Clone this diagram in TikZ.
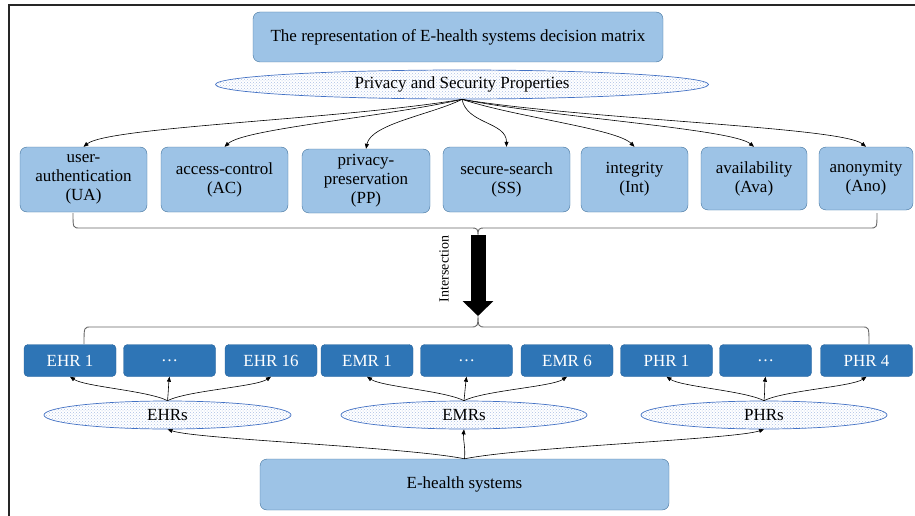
\documentclass[tikz,border=0pt]{standalone}
\usepackage{fontspec}
\setmainfont{Liberation Serif}
\usetikzlibrary{shapes.geometric,arrows.meta,patterns}

\definecolor{hellblau}{HTML}{9DC3E6}
\definecolor{randblau}{HTML}{41719C}
\definecolor{dunkelblau}{HTML}{2E75B6}
\definecolor{ovalrand}{HTML}{4472C4}

\tikzset{
	kasten/.style={draw=randblau, fill=hellblau, rounded corners=7pt, align=center, inner sep=0pt, font=\fontsize{17}{19}\selectfont},
	datensatz/.style={draw=dunkelblau!85!black, fill=dunkelblau, text=white, rounded corners=4pt, minimum width=92pt, minimum height=32pt, inner sep=0pt, font=\fontsize{17}{19}\selectfont},
	oval/.style={ellipse, draw=ovalrand, line width=0.7pt, pattern=crosshatch dots, pattern color=ovalrand!45, inner sep=0pt, font=\fontsize{17}{19}\selectfont},
	pfeil/.style={-{Triangle[length=5pt,width=4pt]}, line width=0.6pt},
	klammer/.style={draw=black!60, line width=0.9pt},
	dickpfeil/.style={line width=15pt, -{Triangle[width=30pt,length=15pt]}}
}

\begin{document}
\begin{tikzpicture}[x=1pt, y=-1pt]
		\useasboundingbox (0,0) rectangle (915,516);
		
		% Rahmen
		\draw[line width=2pt, black!85] (9,520) -- (9,5) -- (920,5);
		
		% Titel
		\node[kasten, minimum width=410pt, minimum height=50pt] (titel) at (458,37) {The representation of E-health systems decision matrix};
		\node[oval, minimum width=493pt, minimum height=29pt] (eig) at (462,84.5) {Privacy and Security Properties};
		
		% Eigenschaften
		\node[kasten, minimum width=127pt, minimum height=65pt] (ua) at (83.5,179.5) {user-\\authentication\\(UA)};
		\node[kasten, minimum width=127pt, minimum height=65pt] (ac) at (224.5,179.5) {access-control\\(AC)};
		\node[kasten, minimum width=128pt, minimum height=64pt] (pp) at (366,181) {privacy-\\preservation\\(PP)};
		\node[kasten, minimum width=127pt, minimum height=65pt] (ss) at (506.5,179.5) {secure-search\\(SS)};
		\node[kasten, minimum width=107pt, minimum height=65pt] (int) at (634.5,179.5) {integrity\\(Int)};
		\node[kasten, minimum width=106pt, minimum height=63pt] (ava) at (754,178.5) {availability\\(Ava)};
		\node[kasten, minimum width=94pt, minimum height=63pt] (ano) at (866,178.5) {anonymity\\(Ano)};
		
		\draw[pfeil] (eig.south) .. controls +(-120,20) and +(25,-20) .. (ua.north);
		\draw[pfeil] (eig.south) .. controls +(-80,18) and +(20,-18) .. (ac.north);
		\draw[pfeil] (eig.south) .. controls +(-30,15) and +(5,-25) .. (pp.north);
		\draw[pfeil] (eig.south) .. controls +(5,25) and +(0,-25) .. (ss.north);
		\draw[pfeil] (eig.south) .. controls +(55,18) and +(-18,-18) .. (int.north);
		\draw[pfeil] (eig.south) .. controls +(90,18) and +(-22,-18) .. (ava.north);
		\draw[pfeil] (eig.south) .. controls +(120,20) and +(-25,-20) .. (ano.north);
		
		% Klammern und Schnittmenge
		\coordinate (ko) at (478,238);
		\coordinate (ku) at (478,312);
		\draw[klammer] (73,213) .. controls (73,228) .. (80,228) -- (470,228) .. controls (ko |- 0,228) .. (ko) .. controls (ko |- 0,228) .. (486,228) -- (870,228) .. controls (877,228) .. (877,213);
		\draw[klammer] (84,344) .. controls (84,327) .. (91,327) -- (470,327) .. controls (ku |- 0,327) .. (ku) .. controls (ku |- 0,327) .. (486,327) -- (862,327) .. controls (869,327) .. (869,344);
		\draw[dickpfeil] ([yshift=3pt]ko) -- ([yshift=-4pt]ku);
		\node[rotate=90, font=\fontsize{14}{16}\selectfont] (schnitt) at (444,269) {Intersection};
		
		% Datensaetze
		\node[datensatz] (ehr1) at (70,360.5) {EHR 1};
		\node[datensatz] (ehrp) at (169.5,360.5) {\dots};
		\node[datensatz] (ehr16) at (271,360.5) {EHR 16};
		\node[datensatz] (emr1) at (367,360.5) {EMR 1};
		\node[datensatz] (emrp) at (466.5,360.5) {\dots};
		\node[datensatz] (emr6) at (567,360.5) {EMR 6};
		\node[datensatz] (phr1) at (666.5,360.5) {PHR 1};
		\node[datensatz] (phrp) at (765.5,360.5) {\dots};
		\node[datensatz] (phr4) at (866.5,360.5) {PHR 4};
		
		% Gruppen
		\node[oval, minimum width=247pt, minimum height=28pt] (ehrs) at (167.5,415) {EHRs};
		\node[oval, minimum width=246pt, minimum height=28pt] (emrs) at (464,415) {EMRs};
		\node[oval, minimum width=246pt, minimum height=28pt] (phrs) at (764,415) {PHRs};
		
		\draw[pfeil] (ehrs.north) .. controls +(-20,-10) and +(15,10) .. (ehr1.south);
		\draw[pfeil] (ehrs.north) .. controls +(1,-10) and +(-1,8) .. (ehrp.south);
		\draw[pfeil] (ehrs.north) .. controls +(20,-10) and +(-15,10) .. (ehr16.south);
		\draw[pfeil] (emrs.north) .. controls +(-20,-10) and +(15,10) .. (emr1.south);
		\draw[pfeil] (emrs.north) .. controls +(1,-10) and +(-1,8) .. (emrp.south);
		\draw[pfeil] (emrs.north) .. controls +(20,-10) and +(-15,10) .. (emr6.south);
		\draw[pfeil] (phrs.north) .. controls +(-20,-10) and +(15,10) .. (phr1.south);
		\draw[pfeil] (phrs.north) .. controls +(1,-10) and +(-1,8) .. (phrp.south);
		\draw[pfeil] (phrs.north) .. controls +(20,-10) and +(-15,10) .. (phr4.south);
		
		% E-Health
		\node[kasten, minimum width=409pt, minimum height=51pt] (ehs) at (464.5,484.5) {E-health systems};
		\draw[pfeil] (ehs.north) .. controls +(-60,-12) and +(30,10) .. (ehrs.south);
		\draw[pfeil] (ehs.north) .. controls +(1,-12) and +(-1,10) .. (emrs.south);
		\draw[pfeil] (ehs.north) .. controls +(60,-12) and +(-30,10) .. (phrs.south);
		
	\end{tikzpicture}
\end{document}
